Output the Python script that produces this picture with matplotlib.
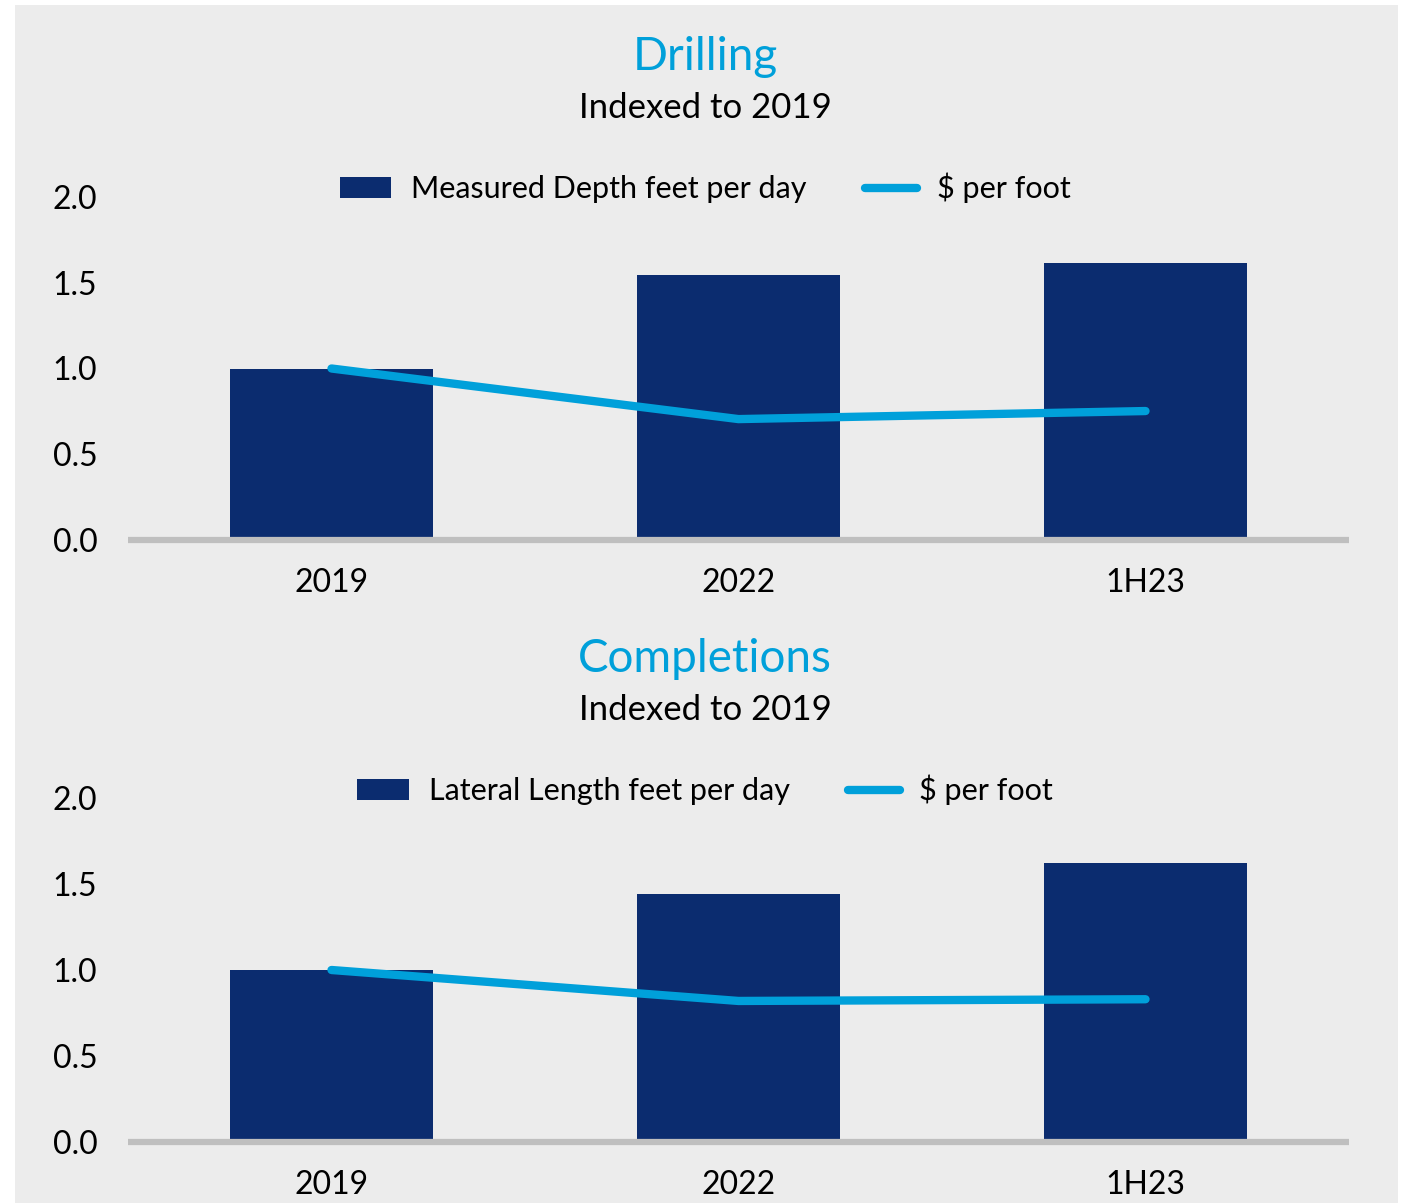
import matplotlib.pyplot as plt
from matplotlib.patches import Patch, Rectangle
from matplotlib.lines import Line2D

plt.rcParams['font.family'] = ['Lato', 'DejaVu Sans']

# data
categories = ['2019', '2022', '1H23']
drill_depth = [1.0, 1.545, 1.615]
drill_cost = [1.0, 0.705, 0.752]
comp_length = [1.0, 1.44, 1.62]
comp_cost = [1.0, 0.82, 0.83]
yticks = [0.0, 0.5, 1.0, 1.5, 2.0]

navy = '#0B2C6F'
cyan = '#00A0DA'
bg = '#ECECEC'
base = '#BFBFBF'

fig = plt.figure(figsize=(14.1, 12.03), dpi=100)
fig.patch.set_facecolor('white')
# grey panel behind everything
fig.patches.append(Rectangle((15 / 1410, 0), (1398 - 15) / 1410, 1 - 5 / 1203,
                             transform=fig.transFigure, facecolor=bg,
                             edgecolor='none', zorder=-10))


def panel(rect, bars, line, bar_label, title, title_y, legend_y):
    ax = fig.add_axes(rect)
    ax.set_facecolor('none')
    x = range(len(categories))
    ax.bar(x, bars, width=0.5, color=navy, zorder=2)
    ax.plot(x, line, color=cyan, linewidth=6, solid_capstyle='round',
            solid_joinstyle='round', zorder=3)
    ax.axhline(0, color=base, linewidth=4.5, zorder=4, clip_on=False,
               solid_capstyle='butt')
    ax.set_xlim(-0.5, 2.5)
    ax.set_ylim(0, 2.0)
    ax.set_yticks(yticks)
    ax.set_yticklabels(['%.1f' % v for v in yticks])
    ax.set_xticks(list(x))
    ax.set_xticklabels(categories)
    ax.tick_params(axis='y', length=0, pad=22, labelsize=23)
    ax.tick_params(axis='x', length=0, pad=20, labelsize=23)
    for s in ax.spines.values():
        s.set_visible(False)
    fig.text(0.5, title_y, title, ha='center', va='center', fontsize=33, color=cyan)
    fig.text(0.5, title_y - 51 / 1203, 'Indexed to 2019', ha='center', va='center',
             fontsize=25, color='black')
    handles = [Patch(facecolor=navy, edgecolor='none', label=bar_label),
               Line2D([0], [0], color=cyan, linewidth=6, solid_capstyle='round',
                      label='$ per foot')]
    fig.legend(handles=handles, loc='center', bbox_to_anchor=(0.5, legend_y),
               ncol=2, frameon=False, fontsize=22, handlelength=1.7,
               handletextpad=0.65, columnspacing=1.9)
    return ax


panel([128 / 1410, 1 - 540 / 1203, 1221 / 1410, 343 / 1203],
      drill_depth, drill_cost, 'Measured Depth feet per day', 'Drilling',
      1 - 57 / 1203, 1 - 188 / 1203)
panel([128 / 1410, 1 - 1142 / 1203, 1221 / 1410, 344 / 1203],
      comp_length, comp_cost, 'Lateral Length feet per day', 'Completions',
      1 - 659 / 1203, 1 - 790 / 1203)

plt.savefig('out.png', dpi=100)
